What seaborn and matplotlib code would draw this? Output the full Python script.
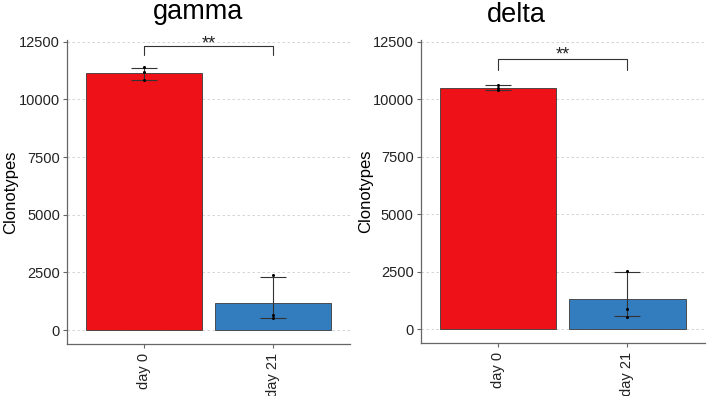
import numpy as np
import pandas as pd
import matplotlib
matplotlib.use('Agg')
import matplotlib.pyplot as plt
import seaborn as sns

sns.set_theme(style='white')
plt.rcParams['font.family'] = ['Liberation Sans', 'DejaVu Sans']

# Data
days = ['day 0', 'day 21']
bar_colors = ['#EE1118', '#337DBE']

gamma_mean = [11130, 1160]
gamma_lo = [10840, 507]
gamma_hi = [11375, 2285]
gamma_pts_day0 = [11390, 11170, 10840]
gamma_pts_day21 = [2385, 650, 507]

delta_mean = [10480, 1300]
delta_lo = [10395, 560]
delta_hi = [10610, 2468]
delta_pts_day0 = [10600, 10480, 10400]
delta_pts_day21 = [2537, 866, 546]

yticks = [0, 2500, 5000, 7500, 10000, 12500]
sig_label = '**'

panels = [
    dict(title='gamma', mean=gamma_mean, lo=gamma_lo, hi=gamma_hi,
         pts=[gamma_pts_day0, gamma_pts_day21],
         bracket=(11925, 12314), star_y=12390, ylab_x=-0.173,
         rect=[0.0945, 0.1313, 0.3992, 0.7677], title_x=0.279, title_y=0.953),
    dict(title='delta', mean=delta_mean, lo=delta_lo, hi=delta_hi,
         pts=[delta_pts_day0, delta_pts_day21],
         bracket=(11258, 11734), star_y=11900, ylab_x=-0.168,
         rect=[0.5934, 0.1338, 0.4010, 0.7652], title_x=0.729, title_y=0.945),
]

fig = plt.figure(figsize=(7.09, 3.96), dpi=100)

for p in panels:
    ax = fig.add_axes(p['rect'])
    bars = pd.DataFrame({'day': days, 'value': p['mean']})
    sns.barplot(data=bars, x='day', y='value', hue='day', palette=bar_colors,
                saturation=1, width=0.9, edgecolor='#3a3a3a', linewidth=0.6,
                legend=False, errorbar=None, ax=ax, zorder=2)

    xpos = np.arange(len(days))
    mean = np.array(p['mean'])
    err = [mean - np.array(p['lo']), np.array(p['hi']) - mean]
    ax.errorbar(xpos, mean, yerr=err, fmt='none', ecolor='#333333',
                elinewidth=0.8, capsize=9.5, capthick=0.8, zorder=3)

    pts = pd.DataFrame({'day': np.repeat(days, [len(v) for v in p['pts']]),
                        'value': np.concatenate(p['pts'])})
    sns.stripplot(data=pts, x='day', y='value', jitter=False, color='black',
                  size=2.2, ax=ax, zorder=4)

    # significance bracket
    b0, b1 = p['bracket']
    ax.plot([0, 0, 1, 1], [b0, b1, b1, b0], color='#333333', lw=0.8, zorder=3)
    ax.text(0.5, p['star_y'], sig_label, ha='center', va='center',
            fontsize=13, color='#222222')

    ax.set_xlim(-0.6, 1.6)
    ax.set_ylim(-600, 12570)
    ax.set_yticks(yticks)
    ax.set_yticklabels([str(t) for t in yticks])
    ax.yaxis.grid(True, linestyle=(0, (3, 3)), color='#cfcfcf', lw=0.6)
    ax.set_axisbelow(True)
    ax.set_xlabel('')
    ax.set_ylabel('Clonotypes', fontsize=12, color='black')
    ax.yaxis.set_label_coords(p['ylab_x'], 0.5)
    ax.tick_params(axis='x', labelrotation=90, labelsize=10.5,
                   labelcolor='#222222', length=3, color='#666666', width=0.8,
                   bottom=True)
    ax.tick_params(axis='y', labelsize=10.5, labelcolor='#222222',
                   length=3, color='#666666', width=0.8, left=True, pad=2)
    for side in ['top', 'right']:
        ax.spines[side].set_visible(False)
    for side in ['left', 'bottom']:
        ax.spines[side].set_color('#666666')
        ax.spines[side].set_linewidth(0.9)

    fig.text(p['title_x'], p['title_y'], p['title'], ha='center',
             va='baseline', fontsize=19.5, color='black')

fig.savefig('out.png', dpi=100)
